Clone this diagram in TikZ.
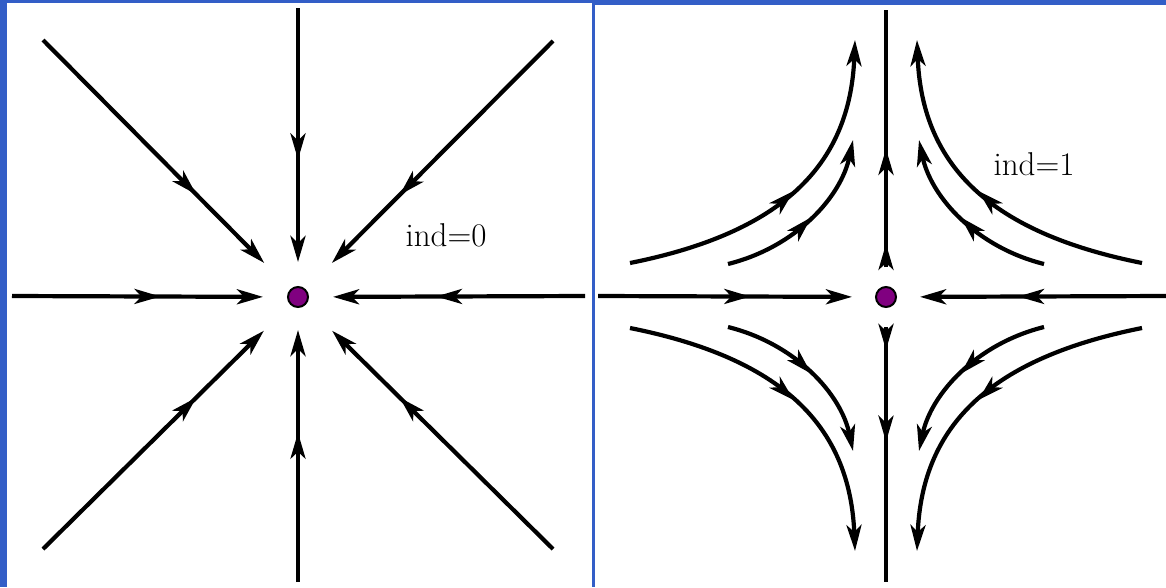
\documentclass[tikz,border=0pt]{standalone}
\usepackage{amsmath,amssymb}
\usepackage{tikz}
\usetikzlibrary{arrows.meta,decorations.markings}
\definecolor{frameblue}{RGB}{51,94,199}
\definecolor{dotpurple}{RGB}{128,0,128}

\begin{document}
\begin{tikzpicture}[x=1pt,y=-1pt,>={Stealth[length=26pt,width=15pt,inset=7pt]},
  flow/.style={line width=4.2pt},
  midarr/.style={postaction={decorate},decoration={markings,mark=at position #1 with {\arrow{>}}}},
  twoarr/.style 2 args={postaction={decorate},decoration={markings,mark=at position #1 with {\arrow{>}},mark=at position #2 with {\arrow{>}}}},
  fix/.style={circle,draw,line width=2pt,fill=dotpurple,minimum size=20pt,inner sep=0pt},
  lbl/.style={font=\fontsize{33}{40}\selectfont}]
\useasboundingbox (0,0) rectangle (1166,587);
\fill[frameblue] (0,0) rectangle (7,587);
\fill[frameblue] (0,0) rectangle (593,3);
\fill[frameblue] (591.5,0) rectangle (595,587);
\fill[frameblue] (593,0) rectangle (1166,5);
\node[fix] (c0) at (298,297) {};
\coordinate (n0) at (298,8);
\coordinate (s0) at (298,582);
\coordinate (w0) at (12,296);
\coordinate (e0) at (585,296);
\coordinate (nw0) at (43,40);
\coordinate (ne0) at (553,41);
\coordinate (sw0) at (43,549);
\coordinate (se0) at (553,549);
\draw[flow,->,midarr=0.545,shorten >=24pt] (n0) -- (c0);
\draw[flow,->,midarr=0.545,shorten >=22pt] (s0) -- (c0);
\draw[flow,->,midarr=0.54,shorten >=24pt] (w0) -- (c0);
\draw[flow,->,midarr=0.54,shorten >=24pt] (e0) -- (c0);
\draw[flow,->,midarr=0.62,shorten >=37pt] (nw0) -- (c0);
\draw[flow,->,midarr=0.62,shorten >=37pt] (ne0) -- (c0);
\draw[flow,->,midarr=0.62,shorten >=37pt] (sw0) -- (c0);
\draw[flow,->,midarr=0.62,shorten >=37pt] (se0) -- (c0);
\node[lbl] (t0) at (446,235) {ind=0};
\node[fix] (c1) at (886,297) {};
\coordinate (w1) at (598,296);
\coordinate (e1) at (1166,296);
\coordinate (n1a) at (886,267);
\coordinate (n1) at (886,10);
\coordinate (s1a) at (886,327);
\coordinate (s1) at (886,582);
\draw[flow,->,midarr=0.55,shorten >=23pt] (w1) -- (c1);
\draw[flow,->,midarr=0.55,shorten >=23pt] (e1) -- (c1);
\draw[flow,twoarr={0.09}{0.46}] (n1a) -- (n1);
\draw[flow,twoarr={0.09}{0.45}] (s1a) -- (s1);
\draw[flow,->,midarr=0.52] (630,263) .. controls (780,233) and (850,167) .. (855,40);
\draw[flow,->,midarr=0.52] (728,264) .. controls (796,247) and (841,197) .. (853,140);
\draw[flow,->,midarr=0.52] (1142,263) .. controls (992,233) and (922,167) .. (917,40);
\draw[flow,->,midarr=0.52] (1044,264) .. controls (976,247) and (931,197) .. (919,140);
\draw[flow,->,midarr=0.52] (630,328) .. controls (780,358) and (850,424) .. (855,551);
\draw[flow,->,midarr=0.52] (728,327) .. controls (796,344) and (841,394) .. (853,451);
\draw[flow,->,midarr=0.52] (1142,328) .. controls (992,358) and (922,424) .. (917,551);
\draw[flow,->,midarr=0.52] (1044,327) .. controls (976,344) and (931,394) .. (919,451);
\node[lbl] (t1) at (1034,164) {ind=1};
\end{tikzpicture}
\end{document}
